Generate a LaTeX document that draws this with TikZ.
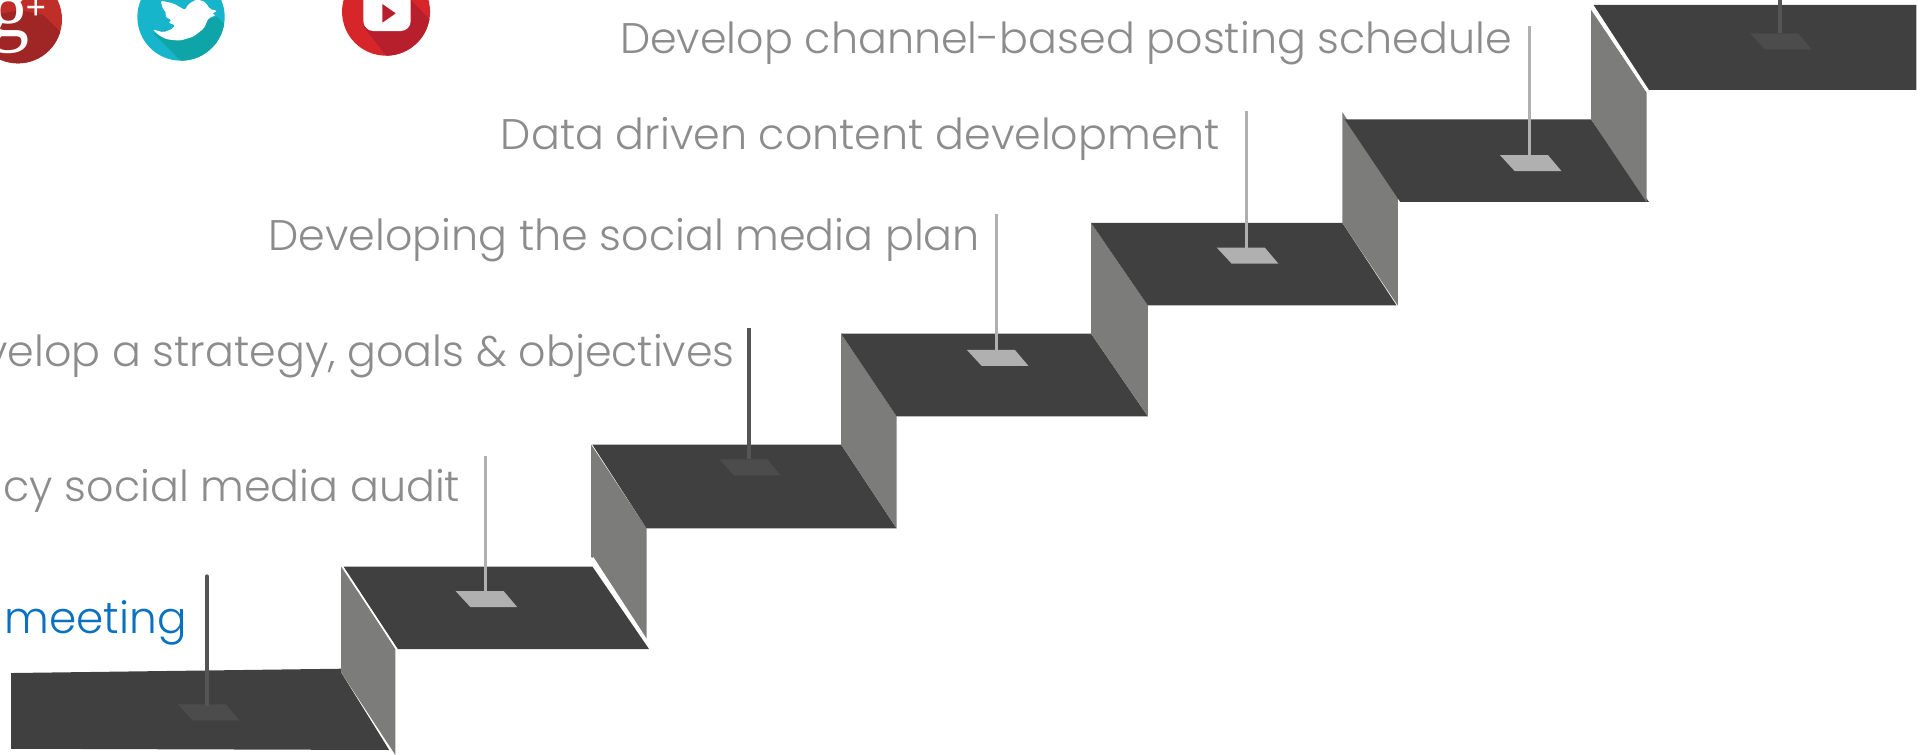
\documentclass[tikz,border=0pt]{standalone}
\usepackage{fontspec}
\setmainfont{Poppins Light}
\newfontfamily\gfont{Liberation Serif}
\definecolor{stepc}{HTML}{404040}
\definecolor{wallc}{HTML}{7C7C7A}
\definecolor{labelc}{HTML}{8C8C8C}
\definecolor{poleL}{HTML}{B0B0B0}
\definecolor{poleD}{HTML}{555555}
\definecolor{plateD}{HTML}{4C4C4C}
\definecolor{blueL}{HTML}{0A70C0}
\definecolor{gplusL}{HTML}{C02E2A}
\definecolor{gplusD}{HTML}{A02626}
\definecolor{twL}{HTML}{17B5CC}
\definecolor{twD}{HTML}{0FA5A8}
\definecolor{ytL}{HTML}{D7262A}
\definecolor{ytD}{HTML}{B81F2D}
\tikzset{
 stepface/.style={fill=stepc,draw=none},
 wallface/.style={fill=wallc,draw=none},
 lbl/.style={anchor=east,inner sep=0pt,text=labelc,font=\fontsize{21.4}{26}\selectfont},
 polel/.style={draw=poleL,line width=1.4pt},
 poled/.style={draw=poleD,line width=2pt},
 gapline/.style={draw=white,line width=1.3pt},
 thingap/.style={draw=white,line width=0.6pt},
}
\newcommand{\plate}[3]{\fill[#3] (#1-24,#2) -- (#1+15,#2) -- (#1+26,#2+13) -- (#1-12,#2+13) -- cycle;}
\begin{document}
\begin{tikzpicture}[x=0.61575pt,y=-0.61575pt]
\useasboundingbox (0,0) rectangle (1568,613);
\begin{scope}
\clip (0,0) rectangle (1568,613);
% social icons, in zoom-crop units
\begin{scope}[xscale=.2707,yscale=.2707]
 \begin{scope}
  \clip (54,58) circle (132);
  \fill[gplusL] (-100,-100) rectangle (220,220);
  \fill[gplusD] (-100,60) -- (60,30) -- (130,45) -- (240,155) -- (-100,260) -- cycle;
 \end{scope}
 \node[inner sep=0pt,text=white] (gletter) at (28,75) {\gfont\fontsize{40}{40}\selectfont g};
 \node[inner sep=0pt,text=white] (gplus) at (108,28) {\gfont\bfseries\fontsize{18}{18}\selectfont +};
 \begin{scope}
  \clip (543,51) circle (131);
  \fill[twL] (400,-100) rectangle (700,220);
  \fill[twD] (460,100) -- (650,50) -- (750,150) -- (580,220) -- cycle;
 \end{scope}
 \fill[white,rounded corners=1pt] (482,2) -- (520,10) -- (555,30) -- (565,12) -- (590,-2) -- (615,5) -- (630,28) -- (652,32) -- (635,42) -- (648,45) -- (625,55) -- (612,85) -- (580,110) -- (540,122) -- (500,118) -- (475,105) -- (458,88) -- (490,97) -- (520,85) -- (525,75) -- (505,68) -- (515,60) -- (495,50) -- (500,40) -- (488,25) -- cycle;
 \begin{scope}
  \clip (1158,35) circle (132);
  \fill[ytL] (1000,-100) rectangle (1300,220);
  \fill[ytD] (1090,80) -- (1232,0) -- (1340,110) -- (1200,220) -- cycle;
 \end{scope}
 \fill[white,rounded corners=5pt] (1090,-30) rectangle (1232,93);
 \fill[ytD] (1147,12) -- (1187,40) -- (1147,68) -- cycle;
\end{scope}
% steps
\fill[stepface] (9,546.5) -- (277,543) -- (277,546) -- (316,609) -- (9,608) -- cycle;
\fill[wallface] (277,459) -- (321,527) -- (321,613) -- (277,546) -- cycle;
\fill[stepface] (279,460) -- (481,460) -- (527,527) -- (323,527) -- cycle;
\draw[thingap] (277,459) -- (322,527);
\fill[wallface] (480,361) -- (525,429) -- (525,520) -- (480,452) -- cycle;
\draw[gapline] (481,453) -- (526,522);
\fill[stepface] (481,361) -- (683,361) -- (728,429) -- (525,429) -- cycle;
\fill[wallface] (683,271) -- (728,338) -- (728,429) -- (683,361) -- cycle;
\fill[stepface] (683,271) -- (886,271) -- (932,338) -- (728,338) -- cycle;
\fill[wallface] (886,181) -- (932,248) -- (932,338) -- (886,271) -- cycle;
\fill[stepface] (886,181) -- (1090,181) -- (1134,248) -- (932,248) -- cycle;
\fill[wallface] (1090,91) -- (1135,160) -- (1135,248) -- (1090,181) -- cycle;
\fill[stepface] (1092,97) -- (1292,97) -- (1339,164) -- (1137,164) -- cycle;
\fill[wallface] (1292,8) -- (1337,75) -- (1337,164) -- (1292,97) -- cycle;
\fill[stepface] (1294,4) -- (1556,4) -- (1556,73) -- (1339,73) -- cycle;
\draw[gapline] (1293,6) -- (1337,73);
% poles and plates
\plate{168.5}{572}{plateD}
\draw[poled,line cap=round] (168,468) -- (168,572);
\plate{394}{480}{poleL}
\draw[polel] (394,370) -- (394,480);
\plate{608}{373}{plateD}
\draw[poled] (608,266) -- (608,373);
\plate{809}{284}{poleL}
\draw[polel] (809,174) -- (809,284);
\plate{1012}{201}{poleL}
\draw[polel] (1012,90) -- (1012,201);
\plate{1242}{126}{poleL}
\draw[polel] (1242,21) -- (1242,126);
\plate{1445}{27}{plateD}
\draw[poled] (1445,0) -- (1445,27);
% labels
\node[lbl] (t1) at (1228,35) {Develop channel-based posting schedule};
\node[lbl] (t2) at (991,113) {Data driven content development};
\node[lbl] (t3) at (796,195) {Developing the social media plan};
\node[lbl] (t4) at (597,289) {Develop a strategy, goals \& objectives};
\node[lbl] (t5) at (374,399) {Legacy social media audit};
\node[lbl,text=blueL,font=\fontsize{21.9}{26}\selectfont] (t6) at (152,506) {meeting};
\end{scope}
\end{tikzpicture}
\end{document}
